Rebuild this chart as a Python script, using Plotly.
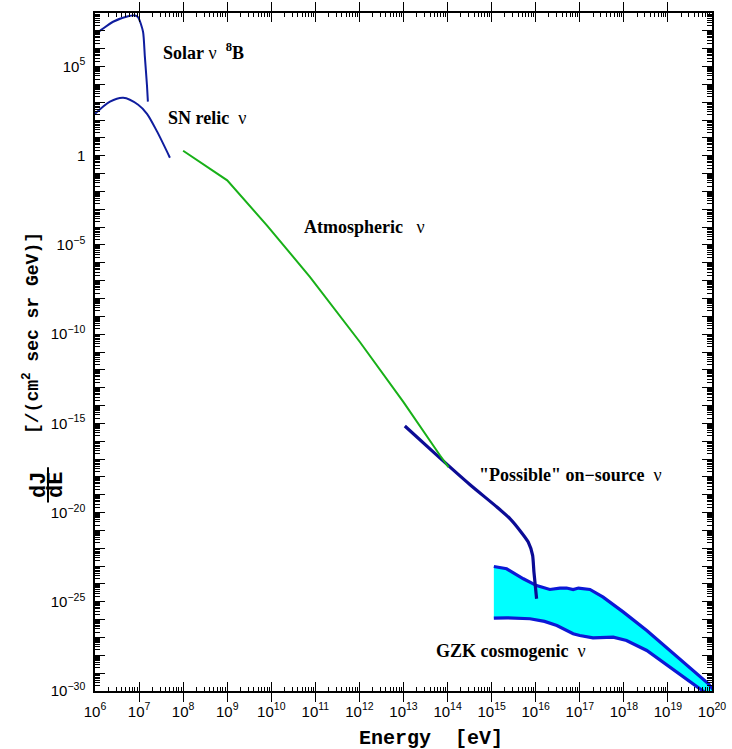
import numpy as np
import plotly.graph_objects as go

# Spectra as decimal exponents: log10(E / eV) and log10(dJ/dE)
solar_log_e = [6.00, 6.11, 6.41, 6.75, 6.91, 6.98, 7.09, 7.13, 7.18, 7.20]
solar_log_flux = [6.84, 7.00, 7.51, 7.82, 7.86, 7.76, 6.95, 5.60, 3.92, 3.03]

sn_log_e = [6.00, 6.34, 6.64, 6.98, 7.18, 7.41, 7.70]
sn_log_flux = [2.35, 3.03, 3.25, 2.86, 2.35, 1.35, -0.11]

atm_log_e = [8.00, 9.00, 9.90, 10.88, 12.01, 13.00, 13.83, 14.02]
atm_log_flux = [0.28, -1.38, -3.90, -6.80, -10.44, -13.81, -16.80, -17.45]

src_log_e = [13.03, 13.83, 14.51, 15.12, 15.42, 15.64, 15.83, 15.93, 15.96, 16.02]
src_log_flux = [-15.15, -16.95, -18.44, -19.69, -20.35, -21.00, -21.65, -22.40, -23.34, -24.83]

gzk_hi_log_e = [15.05, 15.34, 15.72, 16.02, 16.32, 16.55, 16.70, 16.85, 16.97, 17.23,
                17.53, 17.99, 18.52, 19.05, 19.58, 19.92, 20.04]
gzk_hi_log_flux = [-23.02, -23.15, -23.71, -24.09, -24.31, -24.23, -24.23, -24.31, -24.23, -24.31,
                   -24.74, -25.58, -26.61, -27.73, -28.85, -29.60, -29.97]

gzk_lo_log_e = [15.05, 15.35, 15.87, 16.20, 16.48, 16.85, 17.00, 17.30, 17.76, 18.06,
                18.52, 19.05, 19.58, 19.85]
gzk_lo_log_flux = [-25.92, -25.90, -25.95, -26.10, -26.33, -26.79, -26.89, -27.02, -26.98, -27.17,
                   -27.73, -28.66, -29.60, -30.10]

x_decades = list(range(6, 21))
y_decades = list(range(-30, 9))
y_label_decades = [-30, -25, -20, -15, -10, -5, 0, 5]
sub_decade_steps = [2, 3, 4, 5, 6, 7, 8, 9]

X_RANGE = [6, 20]
Y_RANGE = [-30, 8]


def pw(a):
    return np.power(10.0, np.asarray(a, dtype=float))


def sup_label(k):
    if k == 0:
        return "1"
    s = str(k).replace("-", "\u2212")
    return f"10<sup>{s}</sup>"


def sub_ticks(decades):
    return [m * 10.0 ** k for k in decades[:-1] for m in sub_decade_steps]


BLUE_DARK = "#0f1d9e"
NAVY = "#0b0b95"
GZK_BLUE = "#0c18d6"
GREEN = "#18b018"
CYAN = "#00ffff"

fig = go.Figure()

# GZK cosmogenic band: filled polygon, then its two edges
band_x = np.concatenate([pw(gzk_hi_log_e), pw(gzk_lo_log_e)[::-1]])
band_y = np.concatenate([pw(gzk_hi_log_flux), pw(gzk_lo_log_flux)[::-1]])
fig.add_trace(go.Scatter(x=band_x, y=band_y, fill="toself", fillcolor=CYAN,
                         mode="none", hoverinfo="skip"))
fig.add_trace(go.Scatter(x=pw(gzk_hi_log_e), y=pw(gzk_hi_log_flux), mode="lines",
                         line=dict(color=GZK_BLUE, width=3.2)))
fig.add_trace(go.Scatter(x=pw(gzk_lo_log_e), y=pw(gzk_lo_log_flux), mode="lines",
                         line=dict(color=GZK_BLUE, width=3.2)))

# The overlaid axes share the main ranges; they only carry extra tick sets.
fig.add_trace(go.Scatter(x=pw(atm_log_e), y=pw(atm_log_flux), mode="lines",
                         xaxis="x2", yaxis="y2",
                         line=dict(color=GREEN, width=2)))
fig.add_trace(go.Scatter(x=pw(src_log_e), y=pw(src_log_flux), mode="lines",
                         line=dict(color=NAVY, width=3.2, shape="spline", smoothing=0.5)))
fig.add_trace(go.Scatter(x=pw(solar_log_e), y=pw(solar_log_flux), mode="lines",
                         yaxis="y3",
                         line=dict(color=BLUE_DARK, width=2, shape="spline", smoothing=0.6)))
fig.add_trace(go.Scatter(x=pw(sn_log_e), y=pw(sn_log_flux), mode="lines",
                         yaxis="y3",
                         line=dict(color=BLUE_DARK, width=2, shape="spline", smoothing=0.8)))

LABEL_FONT = dict(family="Liberation Serif", size=18, color="black")
labels = [
    (7.49, 5.83, "<b>Solar</b> \u03bd  <b><sup>8</sup>B</b>"),
    (7.60, 2.13, "<b>SN relic</b>  \u03bd"),
    (10.69, -3.98, "<b>Atmospheric</b>   \u03bd"),
    (14.66, -17.88, "<b>\"Possible\" on\u2212source</b>  \u03bd"),
    (13.69, -27.77, "<b>GZK cosmogenic</b>  \u03bd"),
]
for lx, ly, txt in labels:
    fig.add_annotation(x=lx, y=ly, xref="x", yref="y", text=txt, showarrow=False,
                       xanchor="left", yanchor="middle", font=LABEL_FONT)

# Axis titles
MONO = "Liberation Mono"
fig.add_annotation(x=0.5446, y=0, xref="paper", yref="paper", yshift=-47,
                   text="<b>Energy  [eV]</b>", showarrow=False,
                   xanchor="center", yanchor="middle",
                   font=dict(family=MONO, size=20, color="black"))
fig.add_annotation(x=0, y=0.528, xref="paper", yref="paper", xshift=-64,
                   text="<b>[/(cm<sup>2</sup> sec sr GeV)]</b>", showarrow=False,
                   textangle=-90, xanchor="center", yanchor="middle",
                   font=dict(family=MONO, size=18, color="black"))
fig.add_annotation(x=0, y=0.304, xref="paper", yref="paper", xshift=-55,
                   text="<b>dJ</b>", showarrow=False, textangle=-90,
                   xanchor="center", yanchor="middle",
                   font=dict(family=MONO, size=22, color="black"))
fig.add_annotation(x=0, y=0.304, xref="paper", yref="paper", xshift=-38,
                   text="<b>dE</b>", showarrow=False, textangle=-90,
                   xanchor="center", yanchor="middle",
                   font=dict(family=MONO, size=22, color="black"))
fig.add_shape(type="line", xref="paper", yref="paper", x0=-0.0762, x1=-0.0762,
              y0=0.278, y1=0.330, line=dict(color="black", width=2))

TICKFONT = dict(family="Liberation Sans", size=15, color="black")
common = dict(type="log", showgrid=False, zeroline=False, automargin=False,
              linecolor="black", linewidth=1.5, mirror="allticks",
              ticks="inside", tickcolor="black", tickwidth=1.4, tickfont=TICKFONT)

fig.update_layout(
    # labelled decade ticks along x
    xaxis=dict(**common, showline=True, range=X_RANGE, tickmode="array",
               tickvals=list(pw(x_decades)), ticktext=[sup_label(k) for k in x_decades],
               ticklen=9, ticklabelstandoff=6),
    # sub-decade ticks along x
    xaxis2=dict(**common, showline=False, overlaying="x", side="bottom", range=X_RANGE,
                tickmode="array", tickvals=sub_ticks(x_decades), ticklen=4,
                showticklabels=False),
    # labelled ticks every five decades along y
    yaxis=dict(**common, showline=True, range=Y_RANGE, tickmode="array",
               tickvals=list(pw(y_label_decades)),
               ticktext=[sup_label(k) for k in y_label_decades],
               ticklen=10, ticklabelstandoff=5),
    # every decade along y
    yaxis2=dict(**common, showline=False, overlaying="y", side="left", range=Y_RANGE,
                tickmode="array", tickvals=list(pw(y_decades)), ticklen=10,
                showticklabels=False),
    # sub-decade ticks along y
    yaxis3=dict(**common, showline=False, overlaying="y", side="left", range=Y_RANGE,
                tickmode="array", tickvals=sub_ticks(y_decades), ticklen=5,
                showticklabels=False),
    width=732, height=749, showlegend=False,
    plot_bgcolor="white", paper_bgcolor="white",
    margin=dict(l=95, r=20, t=13, b=58),
)

fig.write_html("out.html")
